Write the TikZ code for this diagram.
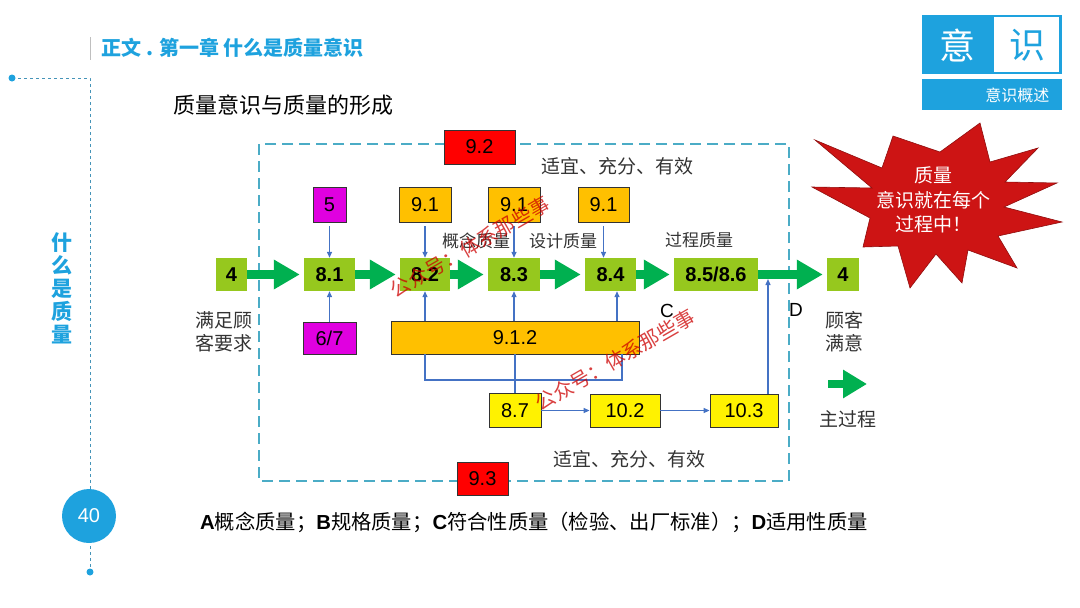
\documentclass[tikz,border=0pt]{standalone}
\usepackage{fontspec}
\setmainfont{Liberation Sans}
\newfontfamily\cjk{Noto Sans CJK SC}
\usetikzlibrary{arrows.meta}
\definecolor{kepala}{RGB}{30,162,222}
\definecolor{hijau}{RGB}{150,200,30}
\definecolor{panah}{RGB}{0,176,80}
\definecolor{emas}{RGB}{255,192,0}
\definecolor{ungu}{RGB}{224,0,224}
\definecolor{biru}{RGB}{68,114,196}
\definecolor{garis}{RGB}{75,172,198}
\definecolor{bintang}{RGB}{205,20,20}
\newcommand{\fs}[1]{\fontsize{#1}{#1}\selectfont}
\newcommand{\alir}[1]{\foreach \a/\b in {#1} \draw[flow] (\a) -- (\b);}
\newcommand{\tunjuk}[1]{\foreach \a/\b in {#1} \draw[link] (\a) -- (\b);}
\tikzset{
  kotak/.style={inner sep=0pt, minimum height=33pt, font=\fs{20}},
  proses/.style={kotak, fill=hijau, font=\fs{20}\bfseries},
  isi/.style={kotak, draw=black!80, line width=0.8pt},
  flow/.style={panah, line width=9pt, -{Triangle[length=26pt,width=28pt]}, shorten >=4pt},
  link/.style={biru, line width=1.3pt, -{Triangle[length=6pt,width=5pt]}},
  siku/.style={biru, line width=1.3pt},
  teks/.style={font=\cjk\fs{19}, text=black!80},
}

\begin{document}
\begin{tikzpicture}[x=1pt,y=-1pt]
  \useasboundingbox (0,0) rectangle (1080,608);

  % header and side bar
  \draw[black!25, line width=1pt] (90,37) -- (90,60);
  \node[anchor=west, text=kepala, font=\cjk\fs{20}\bfseries] (judul) at (98,48) {正文 . 第一章 什么是质量意识};
  \coordinate (S1) at (12,78);
  \coordinate (S2) at (90,78);
  \coordinate (S3) at (90,572);
  \draw[kepala!60!gray, dashed, line width=0.9pt] (S1) -- (S2) -- (S3);
  \foreach \p in {S1,S3} \fill[kepala] (\p) circle (3.5);
  \node[circle, fill=kepala, minimum size=54pt, inner sep=0pt, text=white, font=\fs{20}] (hal) at (89,516) {40};
  \node[align=center, text=kepala, font=\cjk\fs{21}\bfseries, execute at begin node=\setlength{\baselineskip}{23pt}] (sisi) at (62,288) {什\\么\\是\\质\\量};

  % corner tag
  \fill[kepala] (922,15) rectangle (1062,74);
  \fill[white] (994,17) rectangle (1059,72);
  \fill[kepala] (922,79) rectangle (1062,110);
  \node[text=white, font=\cjk\fs{36}] (tag1) at (957,45) {意};
  \node[text=kepala, font=\cjk\fs{36}] (tag2) at (1027,45) {识};
  \node[anchor=east, text=white, font=\cjk\fs{16}] (tag3) at (1053,95) {意识概述};

  \node[font=\cjk\fs{22}] (sub) at (283,105) {质量意识与质量的形成};

  % dashed frame
  \draw[garis, dashed, dash pattern=on 11pt off 6pt, line width=1.4pt] (259,144) rectangle (789,481);

  % star
  \fill[bintang, draw=bintang!70!black, line width=0.6pt]
    (815,140) -- (882,168) -- (893,136) -- (940,152) -- (980,123) -- (990,162)
    -- (1038,148) -- (1005,182) -- (1057,183) -- (1004,207) -- (1062,222)
    -- (998,236) -- (1017,268) -- (968,250) -- (962,283) -- (936,254)
    -- (910,288) -- (898,246) -- (863,247) -- (870,218) -- (812,187)
    -- (872,188) -- cycle;
  \node[align=center, text=white, font=\cjk\fs{19}, execute at begin node=\setlength{\baselineskip}{24.5pt}] (seru) at (933,200) {质量\\意识就在每个\\过程中！};

  % main row
  \node[proses, minimum width=31pt] (P4)  at (231.5,274.5) {4};
  \node[proses, minimum width=51pt] (P81) at (329.5,274.5) {8.1};
  \node[proses, minimum width=50pt] (P82) at (425,274.5) {8.2};
  \node[proses, minimum width=52pt] (P83) at (514,274.5) {8.3};
  \node[proses, minimum width=51pt] (P84) at (610.5,274.5) {8.4};
  \node[proses, minimum width=84pt] (P85) at (716,274.5) {8.5/8.6};
  \node[proses, minimum width=32pt] (P4b) at (843,274.5) {4};
  \alir{P4/P81, P81/P82, P82/P83, P83/P84, P84/P85, P85/P4b}

  % inputs
  \node[isi, fill=ungu, minimum width=33pt, minimum height=35pt] (K5)  at (329.5,204.5) {5};
  \node[isi, fill=ungu, minimum width=53pt, minimum height=32pt] (K67) at (329.5,338) {6/7};
  \node[isi, fill=emas, minimum width=52pt, minimum height=35pt] (Q1) at (425,204.5) {9.1};
  \node[isi, fill=emas, minimum width=52pt, minimum height=35pt] (Q2) at (514,204.5) {9.1};
  \node[isi, fill=emas, minimum width=51pt, minimum height=35pt] (Q3) at (603.5,204.5) {9.1};
  \node[isi, fill=emas, minimum width=248pt] (B912) at (515,337.5) {9.1.2};
  \node[isi, fill=red, minimum width=71pt, minimum height=34pt] (R92) at (479.5,147) {9.2};
  \node[isi, fill=red, minimum width=51pt] (R93) at (482.5,478.5) {9.3};
  \node[isi, fill=yellow, minimum width=52pt, minimum height=34pt] (Y87) at (515,410.5) {8.7};
  \node[isi, fill=yellow, minimum width=70pt] (Y102) at (625,410.5) {10.2};
  \node[isi, fill=yellow, minimum width=68pt] (Y103) at (744,410.5) {10.3};

  \tunjuk{K67/P81, Y87/Y102, Y102/Y103}
  \foreach \a/\b in {K5/P81, Q1/P82, Q2/P83} \draw[link, shorten <=4pt] (\a) -- (\b);
  \draw[link, shorten <=4pt] (Q3) -- (Q3 |- P84.north);
  \coordinate (U3) at (617,321);
  \foreach \p in {P82,P83} \draw[link] (B912.north -| \p) -- (\p);
  \draw[link] (U3) -- (U3 |- P84.south);
  \coordinate (L1) at (425,380);
  \coordinate (L2) at (622,380);
  \draw[siku] (L1 |- B912.south) -- (L1) -- (L2) -- (L2 |- B912.south);
  \draw[siku] (B912.south) -- (Y87.north);
  \coordinate (J) at (768,279);
  \draw[link] (J |- Y103.north) -- (J);

  % texts
  \node[teks] (cukup1) at (617,166) {适宜、充分、有效};
  \node[teks] (cukup2) at (629,459) {适宜、充分、有效};
  \node[teks, font=\cjk\fs{17}] (mA) at (476,241) {概念质量};
  \node[teks, font=\cjk\fs{17}] (mB) at (563,241) {设计质量};
  \node[teks, font=\cjk\fs{17}] (mC) at (699,240) {过程质量};
  \node[font=\fs{19}] (hC) at (667,311) {C};
  \node[font=\fs{19}] (hD) at (796,310) {D};
  \node[teks, align=center, execute at begin node=\setlength{\baselineskip}{23pt}] (awal) at (224,332) {满足顾\\客要求};
  \node[teks, align=center, execute at begin node=\setlength{\baselineskip}{23pt}] (akhir) at (844,332) {顾客\\满意};
  \coordinate (M1) at (828,384);
  \coordinate (M2) at (867,384);
  \draw[flow, line width=8pt, -{Triangle[length=24pt,width=27pt]}, shorten >=0pt] (M1) -- (M2);
  \node[teks] (utama) at (848,419) {主过程};

  \node[font=\fs{20.3}] (ket) at (534,522) {\textbf{A}{\cjk 概念质量；}\textbf{B}{\cjk 规格质量；}\textbf{C}{\cjk 符合性质量（检验、出厂标准）；}\textbf{D}{\cjk 适用性质量}};

  % watermark
  \foreach \p in {(470,247),(615,360)}
    \node[rotate=30, text=red!80!black, opacity=0.75, font=\cjk\fs{20}] at \p {公众号：体系那些事};
\end{tikzpicture}
\end{document}
